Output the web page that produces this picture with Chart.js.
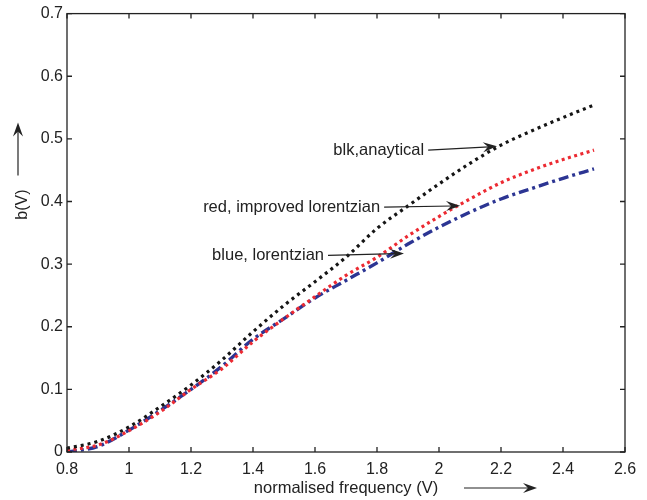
<!DOCTYPE html>
<html>
<head>
<meta charset="utf-8">
<script src="https://cdn.jsdelivr.net/npm/chart.js@4/dist/chart.umd.min.js"></script>
<style>
  body { margin: 0; background: #fff; }
  #wrap { width: 647px; height: 500px; }
</style>
</head>
<body>
<div id="wrap"><canvas id="js--chart" width="647" height="500"></canvas></div>
<script>
// normalised frequency (V)
const freq = [0.8, 0.9, 1.0, 1.1, 1.2, 1.3, 1.4, 1.5, 1.6, 1.7, 1.8, 1.9, 2.0, 2.1, 2.2, 2.3, 2.4, 2.5];

// b(V) for each model
const analytical = [0.006, 0.017, 0.040, 0.072, 0.107, 0.147, 0.192, 0.234, 0.272, 0.311, 0.357, 0.393, 0.428, 0.461, 0.490, 0.513, 0.534, 0.554];
const improvedLorentzian = [0.003, 0.011, 0.034, 0.064, 0.100, 0.133, 0.176, 0.213, 0.248, 0.282, 0.311, 0.345, 0.376, 0.404, 0.430, 0.450, 0.467, 0.482];
const lorentzian = [0.000, 0.009, 0.035, 0.066, 0.100, 0.137, 0.180, 0.213, 0.246, 0.274, 0.302, 0.332, 0.359, 0.383, 0.404, 0.421, 0.437, 0.452];

const xTicks = [0.8, 1.0, 1.2, 1.4, 1.6, 1.8, 2.0, 2.2, 2.4, 2.6];
const yTicks = [0, 0.1, 0.2, 0.3, 0.4, 0.5, 0.6, 0.7];

// labels with arrows, tail -> head in data units
const notes = [
  { text: 'blk,anaytical', from: [1.965, 0.482], to: [2.187, 0.488] },
  { text: 'red, improved lorentzian', from: [1.823, 0.391], to: [2.068, 0.393] },
  { text: 'blue, lorentzian', from: [1.642, 0.314], to: [1.887, 0.317] },
];

const FONT = '"Liberation Sans", Arial, Helvetica, sans-serif';
const INK = '#222';

function pts(ys) {
  return freq.map((x, i) => ({ x: x, y: ys[i] }));
}

function arrow(ctx, x1, y1, x2, y2) {
  const a = Math.atan2(y2 - y1, x2 - x1);
  const len = 14, w = 5;
  ctx.beginPath();
  ctx.moveTo(x1, y1);
  ctx.lineTo(x2 - Math.cos(a) * 8, y2 - Math.sin(a) * 8);
  ctx.stroke();
  ctx.save();
  ctx.translate(x2, y2);
  ctx.rotate(a);
  ctx.beginPath();
  ctx.moveTo(0, 0);
  ctx.lineTo(-len, -w);
  ctx.lineTo(-len + 5, 0);
  ctx.lineTo(-len, w);
  ctx.closePath();
  ctx.fill();
  ctx.restore();
}

const frame = {
  id: 'frame',
  afterDraw(chart) {
    const ctx = chart.ctx;
    const a = chart.chartArea;
    const xs = chart.scales.x, ys = chart.scales.y;
    ctx.save();
    ctx.strokeStyle = INK;
    ctx.fillStyle = INK;
    ctx.lineWidth = 1.3;
    ctx.strokeRect(a.left, a.top, a.right - a.left, a.bottom - a.top);

    // inward ticks on all four sides
    const tl = 5;
    ctx.beginPath();
    xTicks.forEach(v => {
      const px = xs.getPixelForValue(v);
      ctx.moveTo(px, a.bottom); ctx.lineTo(px, a.bottom - tl);
      ctx.moveTo(px, a.top); ctx.lineTo(px, a.top + tl);
    });
    yTicks.forEach(v => {
      const py = ys.getPixelForValue(v);
      ctx.moveTo(a.left, py); ctx.lineTo(a.left + tl, py);
      ctx.moveTo(a.right, py); ctx.lineTo(a.right - tl, py);
    });
    ctx.stroke();

    // annotations
    ctx.lineWidth = 1.2;
    ctx.font = '16.5px ' + FONT;
    ctx.textAlign = 'right';
    ctx.textBaseline = 'middle';
    notes.forEach(n => {
      const x1 = xs.getPixelForValue(n.from[0]), y1 = ys.getPixelForValue(n.from[1]);
      const x2 = xs.getPixelForValue(n.to[0]), y2 = ys.getPixelForValue(n.to[1]);
      ctx.fillText(n.text, x1 - 4, y1);
      arrow(ctx, x1, y1, x2, y2);
    });

    // axis titles and their arrows
    ctx.font = '16.5px ' + FONT;
    ctx.textAlign = 'center';
    ctx.fillText('normalised frequency (V)', (a.left + a.right) / 2, a.bottom + 36);
    arrow(ctx, a.left + 397, a.bottom + 36, a.left + 470, a.bottom + 36);

    ctx.font = '16px ' + FONT;
    ctx.save();
    ctx.translate(a.left - 44, a.top + 191);
    ctx.rotate(-Math.PI / 2);
    ctx.fillText('b(V)', 0, 0);
    ctx.restore();
    arrow(ctx, a.left - 49, a.top + 162, a.left - 49, a.top + 109);
    ctx.restore();
  }
};

const config = {
  type: 'line',
  data: {
    datasets: [
      {
        label: 'blk,anaytical',
        data: pts(analytical),
        borderColor: '#151515',
        borderWidth: 3.2,
        borderDash: [3, 4],
      },
      {
        label: 'red, improved lorentzian',
        data: pts(improvedLorentzian),
        borderColor: '#ec2a32',
        borderWidth: 3.2,
        borderDash: [3, 3.5],
      },
      {
        label: 'blue, lorentzian',
        data: pts(lorentzian),
        borderColor: '#2c3593',
        borderWidth: 3.4,
        borderDash: [10, 4, 3, 4],
      }
    ]
  },
  options: {
    responsive: false,
    animation: false,
    layout: { padding: { left: 0, top: 13, right: 22, bottom: 0 } },
    elements: {
      point: { radius: 0 },
      line: { cubicInterpolationMode: 'monotone', fill: false, borderCapStyle: 'butt' }
    },
    plugins: { legend: { display: false }, tooltip: { enabled: false } },
    scales: {
      x: {
        type: 'linear',
        min: 0.8,
        max: 2.6,
        afterFit: s => { s.height = 48; },
        afterBuildTicks: s => { s.ticks = xTicks.map(v => ({ value: v })); },
        grid: { display: false, drawTicks: false },
        border: { display: false },
        ticks: {
          padding: 8,
          color: INK,
          font: { size: 16, family: FONT },
          maxRotation: 0,
          callback: v => String(+v.toFixed(1))
        }
      },
      y: {
        min: 0,
        max: 0.7,
        afterFit: s => { s.width = 67; },
        afterBuildTicks: s => { s.ticks = yTicks.map(v => ({ value: v })); },
        grid: { display: false, drawTicks: false },
        border: { display: false },
        ticks: {
          padding: 4,
          color: INK,
          font: { size: 16, family: FONT },
          callback: v => String(+v.toFixed(1))
        }
      }
    }
  },
  plugins: [frame]
};

const chart1 = new Chart(document.getElementById('js--chart'), config);
</script>
</body>
</html>
